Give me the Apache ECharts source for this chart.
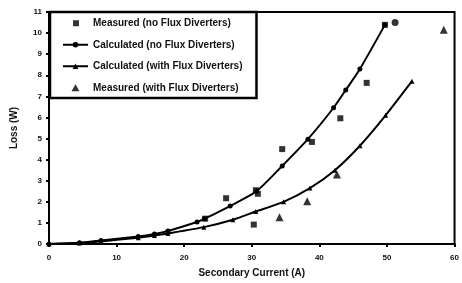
<!DOCTYPE html>
<html>
<head>
<meta charset="utf-8">
<script src="https://cdn.jsdelivr.net/npm/echarts@6/dist/echarts.min.js"></script>
<style>
html, body { margin: 0; padding: 0; background: #fff; }
#chart { width: 462px; height: 283px; }
</style>
</head>
<body>
<div id="chart"></div>
<script>
// values: [current (A), loss (W)]
var measuredNoFD = [[23.1, 1.2], [26.2, 2.17], [30.6, 2.55], [30.9, 2.38], [30.3, 0.92], [34.5, 4.5],
    [38.9, 4.84], [43.1, 5.96], [47, 7.64], [49.7, 10.39]];
var extraCircle = [[51.2, 10.5]];
var calcNoFD = [[0, 0], [4.5, 0.06], [7.7, 0.17], [13.2, 0.36], [15.6, 0.48], [17.6, 0.62], [21.9, 1.04],
    [23, 1.2], [26.8, 1.8], [30.7, 2.5], [34.5, 3.7], [38.3, 4.97], [42.1, 6.46], [43.9, 7.3],
    [46, 8.3], [49.7, 10.39]];
var calcWithFD = [[0, 0], [4.5, 0.05], [7.7, 0.12], [13.2, 0.3], [15.6, 0.4], [17.6, 0.5], [22.9, 0.8],
    [27.2, 1.15], [30.6, 1.54], [34.7, 2.0], [38.6, 2.65], [42.3, 3.5], [46, 4.66], [49.8, 6.1], [53.7, 7.72]];
var measuredWithFD = [[34.1, 1.27], [38.2, 2.03], [42.6, 3.3], [58.4, 10.16]];
var xTicks = [0, 10, 20, 30, 40, 50, 60];
var seriesNames = ['Measured (no Flux Diverters)', 'Calculated (no Flux Diverters)',
    'Calculated (with Flux Diverters)', 'Measured (with Flux Diverters)'];

var myChart = echarts.init(document.getElementById('chart'));
var font = 'Liberation Sans, Arial, sans-serif';
// legend icons: small mark centred in a wide box
var squareIcon = 'path://M0,3L0,3.01Z M25,3L25,3.01Z M10,0L16,0L16,6L10,6Z';
var triIcon = 'path://M0,3L0,3.01Z M25,3L25,3.01Z M12.5,0L16.5,7L8.5,7Z';
var option = {
    animation: false,
    grid: { left: 49, right: 0, top: 12, bottom: 35, show: true, borderColor: '#000', borderWidth: 2 },
    legend: {
        orient: 'vertical',
        left: 50,
        top: 12,
        padding: [5, 14, 4, 12],
        itemGap: 9,
        itemWidth: 25,
        itemHeight: 7,
        borderColor: '#000',
        borderWidth: 2.5,
        backgroundColor: '#fff',
        textStyle: { color: '#111', fontSize: 10, fontWeight: 'bold', fontFamily: font, lineHeight: 12.5 },
        data: [
            { name: seriesNames[0], icon: squareIcon },
            { name: seriesNames[1] },
            { name: seriesNames[2] },
            { name: seriesNames[3], icon: triIcon }
        ]
    },
    xAxis: {
        type: 'value',
        min: xTicks[0],
        max: xTicks[xTicks.length - 1],
        interval: 10,
        name: 'Secondary Current (A)',
        nameLocation: 'middle',
        nameGap: 24,
        nameTextStyle: { color: '#111', fontSize: 10, fontWeight: 'bold', fontFamily: font },
        axisLine: { lineStyle: { color: '#000', width: 2 } },
        axisTick: { length: 3, lineStyle: { color: '#000', width: 2 } },
        axisLabel: { color: '#111', fontSize: 8, fontWeight: 'bold', fontFamily: font, margin: 10 },
        splitLine: { show: false }
    },
    yAxis: {
        type: 'value',
        min: 0,
        max: 11,
        interval: 1,
        name: 'Loss (W)',
        nameLocation: 'middle',
        nameRotate: 90,
        nameGap: 30,
        nameTextStyle: { color: '#111', fontSize: 10, fontWeight: 'bold', fontFamily: font },
        axisLine: { lineStyle: { color: '#000', width: 2 } },
        axisTick: { length: 3, lineStyle: { color: '#000', width: 2 } },
        axisLabel: { color: '#111', fontSize: 8, fontWeight: 'bold', fontFamily: font, margin: 7 },
        splitLine: { show: false }
    },
    series: [
        {
            name: seriesNames[0],
            type: 'scatter',
            symbol: 'rect',
            symbolSize: 6,
            itemStyle: { color: '#000' },
            data: measuredNoFD,
            z: 3
        },
        {
            name: seriesNames[1],
            type: 'line',
            smooth: 0.2,
            symbol: 'circle',
            symbolSize: 5,
            lineStyle: { color: '#000', width: 2 },
            itemStyle: { color: '#000' },
            data: calcNoFD
        },
        {
            name: seriesNames[1],
            type: 'scatter',
            symbol: 'circle',
            symbolSize: 7,
            itemStyle: { color: '#000' },
            data: extraCircle
        },
        {
            name: seriesNames[2],
            type: 'line',
            smooth: 0.2,
            symbol: 'triangle',
            symbolSize: 5,
            lineStyle: { color: '#000', width: 2 },
            itemStyle: { color: '#000' },
            data: calcWithFD
        },
        {
            name: seriesNames[3],
            type: 'scatter',
            symbol: 'triangle',
            symbolSize: 8,
            itemStyle: { color: '#000' },
            data: measuredWithFD,
            z: 3
        }
    ]
};
myChart.setOption(option);
</script>
</body>
</html>
